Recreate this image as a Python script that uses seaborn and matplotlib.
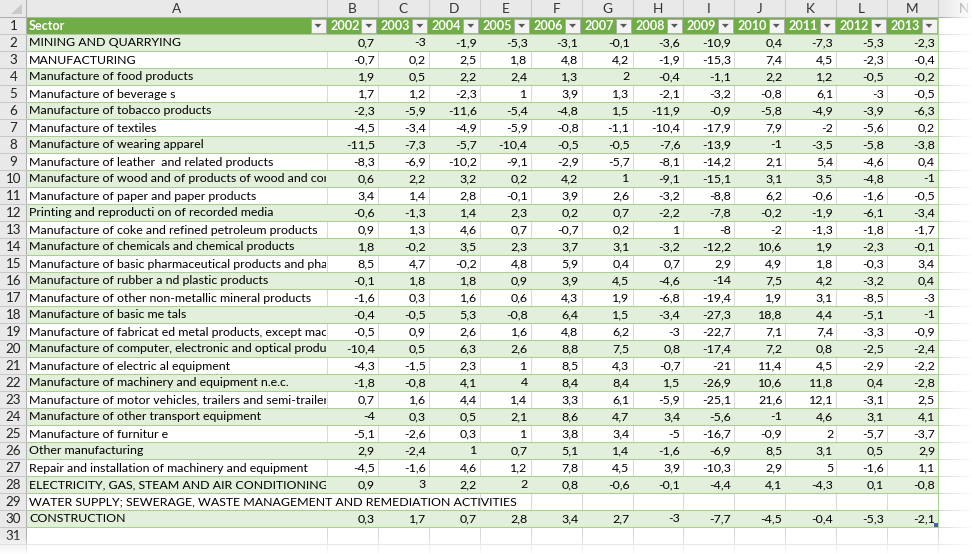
import numpy as np
import matplotlib
matplotlib.use("Agg")
import matplotlib.pyplot as plt
from matplotlib.colors import ListedColormap
from matplotlib.patches import Rectangle, Polygon
import seaborn as sns

# ---------------- data ----------------
col_letters = ["A", "B", "C", "D", "E", "F", "G", "H", "I", "J", "K", "L", "M"]
header_first = "Sector"
years = ["2002", "2003", "2004", "2005", "2006", "2007",
         "2008", "2009", "2010", "2011", "2012", "2013"]

sectors = [
    "MINING AND QUARRYING",
    "MANUFACTURING",
    "Manufacture of food products",
    "Manufacture of beverage s",
    "Manufacture of tobacco products",
    "Manufacture of textiles",
    "Manufacture of wearing apparel",
    "Manufacture of leather  and related products",
    "Manufacture of wood and of products of wood and cork",
    "Manufacture of paper and paper products",
    "Printing and reproducti on of recorded media",
    "Manufacture of coke and refined petroleum products",
    "Manufacture of chemicals and chemical products",
    "Manufacture of basic pharmaceutical products and pharmaceutical preparations",
    "Manufacture of rubber a nd plastic products",
    "Manufacture of other non-metallic mineral products",
    "Manufacture of basic me tals",
    "Manufacture of fabricat ed metal products, except machinery and equipment",
    "Manufacture of computer, electronic and optical products",
    "Manufacture of electric al equipment",
    "Manufacture of machinery and equipment n.e.c.",
    "Manufacture of motor vehicles, trailers and semi-trailers",
    "Manufacture of other transport equipment",
    "Manufacture of furnitur e",
    "Other manufacturing",
    "Repair and installation of machinery and equipment",
    "ELECTRICITY, GAS, STEAM AND AIR CONDITIONING SUPPLY",
    "WATER SUPPLY; SEWERAGE, WASTE MANAGEMENT AND REMEDIATION ACTIVITIES",
    "CONSTRUCTION",
]

v2002 = [0.7, -0.7, 1.9, 1.7, -2.3, -4.5, -11.5, -8.3, 0.6, 3.4, -0.6, 0.9, 1.8, 8.5, -0.1,
         -1.6, -0.4, -0.5, -10.4, -4.3, -1.8, 0.7, -4, -5.1, 2.9, -4.5, 0.9, None, 0.3]
v2003 = [-3, 0.2, 0.5, 1.2, -5.9, -3.4, -7.3, -6.9, 2.2, 1.4, -1.3, 1.3, -0.2, 4.7, 1.8,
         0.3, -0.5, 0.9, 0.5, -1.5, -0.8, 1.6, 0.3, -2.6, -2.4, -1.6, 3, None, 1.7]
v2004 = [-1.9, 2.5, 2.2, -2.3, -11.6, -4.9, -5.7, -10.2, 3.2, 2.8, 1.4, 4.6, 3.5, -0.2, 1.8,
         1.6, 5.3, 2.6, 6.3, 2.3, 4.1, 4.4, 0.5, 0.3, 1, 4.6, 2.2, None, 0.7]
v2005 = [-5.3, 1.8, 2.4, 1, -5.4, -5.9, -10.4, -9.1, 0.2, -0.1, 2.3, 0.7, 2.3, 4.8, 0.9,
         0.6, -0.8, 1.6, 2.6, 1, 4, 1.4, 2.1, 1, 0.7, 1.2, 2, None, 2.8]
v2006 = [-3.1, 4.8, 1.3, 3.9, -4.8, -0.8, -0.5, -2.9, 4.2, 3.9, 0.2, -0.7, 3.7, 5.9, 3.9,
         4.3, 6.4, 4.8, 8.8, 8.5, 8.4, 3.3, 8.6, 3.8, 5.1, 7.8, 0.8, None, 3.4]
v2007 = [-0.1, 4.2, 2, 1.3, 1.5, -1.1, -0.5, -5.7, 1, 2.6, 0.7, 0.2, 3.1, 0.4, 4.5,
         1.9, 1.5, 6.2, 7.5, 4.3, 8.4, 6.1, 4.7, 3.4, 1.4, 4.5, -0.6, None, 2.7]
v2008 = [-3.6, -1.9, -0.4, -2.1, -11.9, -10.4, -7.6, -8.1, -9.1, -3.2, -2.2, 1, -3.2, 0.7, -4.6,
         -6.8, -3.4, -3, 0.8, -0.7, 1.5, -5.9, 3.4, -5, -1.6, 3.9, -0.1, None, -3]
v2009 = [-10.9, -15.3, -1.1, -3.2, -0.9, -17.9, -13.9, -14.2, -15.1, -8.8, -7.8, -8, -12.2, 2.9, -14,
         -19.4, -27.3, -22.7, -17.4, -21, -26.9, -25.1, -5.6, -16.7, -6.9, -10.3, -4.4, None, -7.7]
v2010 = [0.4, 7.4, 2.2, -0.8, -5.8, 7.9, -1, 2.1, 3.1, 6.2, -0.2, -2, 10.6, 4.9, 7.5,
         1.9, 18.8, 7.1, 7.2, 11.4, 10.6, 21.6, -1, -0.9, 8.5, 2.9, 4.1, None, -4.5]
v2011 = [-7.3, 4.5, 1.2, 6.1, -4.9, -2, -3.5, 5.4, 3.5, -0.6, -1.9, -1.3, 1.9, 1.8, 4.2,
         3.1, 4.4, 7.4, 0.8, 4.5, 11.8, 12.1, 4.6, 2, 3.1, 5, -4.3, None, -0.4]
v2012 = [-5.3, -2.3, -0.5, -3, -3.9, -5.6, -5.8, -4.6, -4.8, -1.6, -6.1, -1.8, -2.3, -0.3, -3.2,
         -8.5, -5.1, -3.3, -2.5, -2.9, 0.4, -3.1, 3.1, -5.7, 0.5, -1.6, 0.1, None, -5.3]
v2013 = [-2.3, -0.4, -0.2, -0.5, -6.3, 0.2, -3.8, 0.4, -1, -0.5, -3.4, -1.7, -0.1, 3.4, 0.4,
         -3, -1, -0.9, -2.4, -2.2, -2.8, 2.5, 4.1, -3.7, 2.9, 1.1, -0.8, None, -2.1]

year_values = [v2002, v2003, v2004, v2005, v2006, v2007,
               v2008, v2009, v2010, v2011, v2012, v2013]

# ---------------- layout / style ----------------
W, H = 972, 554
ROWH = 17.0
X_ROWNUM = 26.0
X_A_END = 327.0
COLW = (938.0 - X_A_END) / 12
col_edges = [0.0, X_ROWNUM, X_A_END] + [X_A_END + COLW * (i + 1) for i in range(13)]  # incl. N

GREEN = "#70AD47"
BAND = "#E2EFDA"
BORDER = "#A9D08E"
GRID = "#D9D9D9"
HDR_BG = "#E9E9E9"
HDR_SEP = "#C8C8C8"

FONT = ["Lato", "DejaVu Sans"]
FS = 8.9

def fmt(v):
    if v is None:
        return ""
    if float(v).is_integer():
        return str(int(v))
    return f"{v:.1f}".replace(".", ",")

def row_top(r):  # Excel row number r -> top pixel
    return ROWH * r

nrows = len(sectors)
band = np.array([[1 if i % 2 == 0 else 0] for i in range(nrows)])

fig = plt.figure(figsize=(W / 100, H / 100), dpi=100)
fig.patch.set_facecolor("white")

def fig_axes(x0, x1, y0, y1):
    return fig.add_axes([x0 / W, 1 - y1 / H, (x1 - x0) / W, (y1 - y0) / H])

cmap = ListedColormap(["white", BAND])
body_top, body_bot = row_top(2), row_top(2 + nrows)

# banded fills drawn with seaborn heatmaps
axA = fig_axes(X_ROWNUM, X_A_END, body_top, body_bot)
sns.heatmap(band, ax=axA, cmap=cmap, vmin=0, vmax=1, cbar=False,
            xticklabels=False, yticklabels=False, linewidths=0)
axA.axis("off")

axB = fig_axes(X_A_END, col_edges[-2], body_top, body_bot)
sns.heatmap(np.repeat(band, len(years), axis=1), ax=axB, cmap=cmap, vmin=0, vmax=1,
            cbar=False, xticklabels=False, yticklabels=False, linewidths=0)
axB.axis("off")

# overlay axes in pixel coordinates
ax = fig.add_axes([0, 0, 1, 1])
ax.patch.set_alpha(0)
ax.axis("off")
ax.set_xlim(0, W)
ax.set_ylim(H, 0)

lw = 0.75

# ---- empty-cell gridlines (beyond table) ----
for r in range(2, 34):
    y = row_top(r)
    ax.plot([col_edges[-2], W], [y, y], color=GRID, lw=lw, zorder=1)
for r in range(3 + nrows, 34):
    y = row_top(r)
    ax.plot([X_ROWNUM, W], [y, y], color=GRID, lw=lw, zorder=1)
for x in col_edges[2:]:
    ax.plot([x, x], [body_bot, H], color=GRID, lw=lw, zorder=1)
ax.plot([col_edges[-1], col_edges[-1]], [row_top(1), H], color=GRID, lw=lw, zorder=1)

# ---- vertical gridlines on white rows ----
for i in range(nrows):
    if band[i, 0] == 1:
        continue
    y0, y1 = row_top(2 + i), row_top(3 + i)
    for x in col_edges[2:-2]:
        if sectors[i].startswith("WATER") and x < 470:
            continue
        ax.plot([x, x], [y0, y1], color=GRID, lw=lw, zorder=2)

# ---- green horizontal borders ----
for r in range(2, 3 + nrows):
    y = row_top(r)
    ax.plot([X_ROWNUM, col_edges[-2]], [y, y], color=BORDER, lw=lw, zorder=3)
ax.plot([col_edges[-2], col_edges[-2]], [row_top(1), body_bot], color=BORDER, lw=lw, zorder=3)

# ---- column header strip ----
ax.add_patch(Rectangle((0, 0), W, ROWH, facecolor=HDR_BG, edgecolor="none", zorder=4))
ax.add_patch(Rectangle((0, 0), X_ROWNUM, H, facecolor=HDR_BG, edgecolor="none", zorder=4))
for x in col_edges[1:]:
    ax.plot([x, x], [0, ROWH], color=HDR_SEP, lw=lw, zorder=5)
ax.plot([0, W], [ROWH, ROWH], color="#B0B0B0", lw=lw, zorder=5)
ax.plot([X_ROWNUM, X_ROWNUM], [0, H], color="#B0B0B0", lw=lw, zorder=5)
for r in range(1, 34):
    ax.plot([0, X_ROWNUM], [row_top(r) + ROWH, row_top(r) + ROWH], color=HDR_SEP, lw=lw, zorder=5)
ax.add_patch(Polygon([[X_ROWNUM - 4, 4], [X_ROWNUM - 4, ROWH - 3], [X_ROWNUM - 15, ROWH - 3]],
                     closed=True, facecolor="#C9C9C9", edgecolor="none", zorder=6))

letters_all = col_letters + ["N"]
for j, letter in enumerate(letters_all):
    xc = (col_edges[j + 1] + col_edges[j + 2]) / 2
    ax.text(xc, ROWH / 2 + 0.5, letter, ha="center", va="center", fontsize=9.8,
            family=FONT, color="#333333", zorder=6)

for r in range(1, 32):
    ax.text(X_ROWNUM / 2 + 0.5, row_top(r) + ROWH / 2 + 0.5, str(r), ha="center", va="center",
            fontsize=9.6, family=FONT, color="#222222", zorder=6)

# ---- table header row (green) ----
ax.add_patch(Rectangle((X_ROWNUM, row_top(1)), col_edges[-2] - X_ROWNUM, ROWH,
                       facecolor=GREEN, edgecolor="none", zorder=4))
headers = [header_first] + years
for j, label in enumerate(headers):
    x0, x1 = col_edges[j + 1], col_edges[j + 2]
    ax.text(x0 + 3, row_top(1) + ROWH / 2 + 0.5, label, ha="left", va="center",
            fontsize=FS + 0.2, fontweight="bold", family=FONT, color="white", zorder=6)
    bx0, by0 = x1 - 16.5, row_top(1) + 1.5
    ax.add_patch(Rectangle((bx0, by0), 15, ROWH - 3, facecolor="#F3F3F3",
                           edgecolor="#ABABAB", lw=0.6, zorder=6))
    cx, cy = bx0 + 7.5, by0 + (ROWH - 3) / 2
    ax.add_patch(Polygon([[cx - 3.5, cy - 1.6], [cx + 3.5, cy - 1.6], [cx, cy + 2.2]],
                         closed=True, facecolor="#5A5A5A", edgecolor="none", zorder=7))

# ---- body text ----
fig.canvas.draw()
renderer = fig.canvas.get_renderer()
inv = ax.transData.inverted()

def text_right(t):
    bb = t.get_window_extent(renderer=renderer)
    return inv.transform((bb.x1, bb.y1))[0]

for i, name in enumerate(sectors):
    yc = row_top(2 + i) + ROWH / 2 + 0.5
    t = ax.text(X_ROWNUM + 3, yc, name, ha="left", va="center", fontsize=FS,
                family=FONT, color="black", zorder=6)
    if not name.startswith("WATER"):
        limit = X_A_END - 1
        if text_right(t) > limit:
            # keep characters until the one that crosses the cell edge, then clip it
            n = len(name)
            while n > 1:
                t.set_text(name[:n - 1])
                if text_right(t) <= limit:
                    break
                n -= 1
            t.set_text(name[:n])
        clip = Rectangle((X_ROWNUM, row_top(2 + i)), limit - X_ROWNUM, ROWH,
                         transform=ax.transData, facecolor="none", edgecolor="none")
        t.set_clip_on(True)
        t.set_clip_path(clip)
    for j, vals in enumerate(year_values):
        s = fmt(vals[i])
        if s:
            ax.text(col_edges[j + 3] - 3, yc, s, ha="right", va="center", fontsize=FS,
                    family=FONT, color="black", zorder=6)

# table resize handle
ax.add_patch(Rectangle((col_edges[-2] - 4, body_bot - 4), 4, 4, facecolor="#4A5FB5",
                       edgecolor="none", zorder=8))

# ---- fade at right and bottom edges ----
gx = np.linspace(0, 1, 64)
right = np.zeros((2, 64, 4)); right[..., :3] = 1; right[..., 3] = gx[None, :] ** 1.0 * 0.97
ax.imshow(right, extent=(941, W, H, 0), aspect="auto", zorder=9, interpolation="bilinear")
bottom = np.zeros((64, 2, 4)); bottom[..., :3] = 1; bottom[..., 3] = gx[:, None] ** 1.0 * 0.95
ax.imshow(bottom, extent=(0, W, H, 536), aspect="auto", zorder=9, interpolation="bilinear")

ax.set_xlim(0, W)
ax.set_ylim(H, 0)

fig.savefig("out.png", dpi=100, facecolor="white")
